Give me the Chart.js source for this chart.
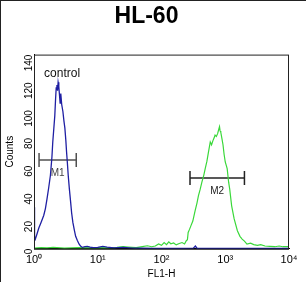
<!DOCTYPE html>
<html>
<head>
<meta charset="utf-8">
<script src="https://cdn.jsdelivr.net/npm/chart.js@4"></script>
<style>
  body { margin: 0; background: #fff; }
  #wrap { width: 306px; height: 282px; }
</style>
</head>
<body>
<div id="wrap"><canvas id="chartHist"></canvas></div>
<script>
// FL1-H channel values (log scale) and counts
const controlX = [
  1.0, 1.02, 1.05, 1.12, 1.19, 1.29, 1.42, 1.51, 1.60, 1.70, 1.81, 1.91, 1.97, 2.04, 2.12,
  2.18, 2.23, 2.29, 2.34, 2.39, 2.45, 2.51, 2.57, 2.63, 2.72, 2.84, 2.95, 3.05, 3.16, 3.24,
  3.35, 3.44, 3.59, 3.75, 3.89, 4.07, 4.27, 4.50, 4.79, 5.08, 5.37, 5.73, 6.31, 6.87, 7.59,
  8.51, 10, 12, 14, 18, 25, 35, 50, 80, 125, 200, 316, 340, 360, 630, 1260, 3160, 10000
];
const controlY = [
  30, 9, 7, 11, 15, 19, 24, 29, 36, 44, 53, 66, 77, 86, 96,
  108, 116, 118, 114, 120, 117, 111, 105, 112, 104, 99, 92, 87, 78, 70,
  61, 53, 43, 34, 26, 19, 14, 9, 6, 3.5, 2, 1, 1.5, 1.7, 1.2,
  0.8, 1, 1.8, 1.2, 0.6, 1, 0.5, 0.4, 0.3, 0.3, 0.3, 0.5, 2, 0.4, 0.3, 0.3, 0.3, 0.3
];

const sampleX = [
  1.0, 1.3, 1.6, 2, 3, 5, 8, 10, 14, 20, 25, 30, 40, 50, 60, 70, 80, 90, 100, 110,
  120, 130, 140, 155, 170, 190, 210, 230, 245, 255, 262, 275, 290, 310, 337, 360, 380, 405, 430, 460,
  485, 515, 547, 582, 610, 641, 670, 692, 725, 759, 790, 813, 830, 851, 890, 922, 960, 1000, 1040, 1072,
  1130, 1175, 1260, 1380, 1550, 1700, 1840, 2000, 2190, 2500, 2800, 3200, 3600, 4200, 5000, 6000, 7000, 8000, 10000
];
const sampleY = [
  0.5, 0.8, 0.6, 1, 0.5, 0.8, 0.6, 0.8, 0.6, 1, 1.5, 1.2, 0.8, 1.6, 2.2, 1.5, 2, 3.5, 2.5, 4.5,
  3, 5, 3.6, 4.2, 2.8, 3.8, 4.5, 3.5, 5.8, 6.5, 11.8, 14, 16.7, 20, 27.6, 33, 38.4, 43, 48, 53,
  57.8, 63, 70, 77, 75, 78, 80, 82, 81, 83, 86, 88, 85, 84, 79, 75, 68, 62.6, 60, 57.8,
  48, 43, 31, 21.5, 13, 9, 7, 5.5, 3.4, 4, 3, 2.5, 3, 2, 1.8, 1.5, 2, 1.5, 1.5
];

// gates
const gateNames = ['M1', 'M2'];
const gateFrom = [1.2, 280];
const gateTo = [4.6, 2000];
const gateLevel = [64, 51];

const yTicks = [0, 20, 40, 60, 80, 100, 120, 140];
const xTickLabels = { 1: '10⁰', 10: '10¹', 100: '10²', 1000: '10³', 10000: '10⁴' };

const toPoints = (xs, ys) => xs.map((x, i) => ({ x: x, y: ys[i] }));

const gateSets = gateNames.map((name, i) => ({
  label: name,
  data: [{ x: gateFrom[i], y: gateLevel[i] }, { x: gateTo[i], y: gateLevel[i] }],
  borderColor: i === 0 ? '#505050' : '#222222',
  borderWidth: 1.5,
  pointStyle: 'line',
  rotation: 90,
  pointRadius: 7,
  pointBorderWidth: 1.5,
  pointBorderColor: i === 0 ? '#505050' : '#222222',
  showLine: true
}));

const histExtras = {
  id: 'histExtras',
  afterDatasetsDraw(chart, args, opts) {
    const c = chart.ctx;
    const a = chart.chartArea;
    const sx = chart.scales.x, sy = chart.scales.y;
    c.save();
    // plot frame
    c.strokeStyle = '#222';
    c.lineWidth = 1;
    c.strokeRect(a.left + 0.5, a.top + 0.5, a.right - a.left - 1, a.bottom - a.top);
    // image border (top and left)
    c.beginPath();
    c.moveTo(0, 0.5); c.lineTo(chart.width, 0.5);
    c.moveTo(0.5, 0); c.lineTo(0.5, chart.height);
    c.stroke();
    // gate labels
    c.font = '10px "Liberation Sans", Arial, sans-serif';
    c.textAlign = 'center';
    c.textBaseline = 'middle';
    gateNames.forEach((name, i) => {
      const mid = Math.sqrt(gateFrom[i] * gateTo[i]);
      c.fillStyle = i === 0 ? '#444' : '#222';
      c.fillText(name, sx.getPixelForValue(mid), sy.getPixelForValue(gateLevel[i]) + 13);
    });
    // control label
    c.fillStyle = '#111';
    c.font = '12px "Liberation Sans", Arial, sans-serif';
    c.textAlign = 'left';
    c.fillText('control', sx.getPixelForValue(opts.controlAt[0]), sy.getPixelForValue(opts.controlAt[1]));
    c.restore();
  }
};

new Chart(document.getElementById('chartHist'), {
  type: 'line',
  data: {
    datasets: [
      {
        label: 'control',
        data: toPoints(controlX, controlY),
        borderColor: '#1f1fa3',
        borderWidth: 1.3,
        pointRadius: 0,
        tension: 0
      },
      {
        label: 'HL-60',
        data: toPoints(sampleX, sampleY),
        borderColor: '#3ad83a',
        borderWidth: 1.2,
        pointRadius: 0,
        tension: 0
      },
      ...gateSets
    ]
  },
  options: {
    responsive: true,
    maintainAspectRatio: false,
    animation: false,
    layout: { padding: { left: 4, right: 17, top: 0, bottom: 2 } },
    plugins: {
      legend: { display: false },
      tooltip: { enabled: false },
      title: {
        display: true,
        text: 'HL-60',
        color: '#000',
        font: { family: '"Liberation Sans", Arial, sans-serif', size: 23, weight: 'bold' },
        padding: { top: 3, bottom: 24 }
      },
      histExtras: { controlAt: [1.44, 126] }
    },
    scales: {
      x: {
        type: 'logarithmic',
        min: 1,
        max: 10000,
        grid: { display: false, drawTicks: true, tickLength: 4, tickColor: '#000' },
        border: { display: true, color: '#000' },
        ticks: {
          color: '#000',
          autoSkip: false,
          maxRotation: 0,
          padding: 1,
          font: { family: '"Liberation Sans", Arial, sans-serif', size: 11 },
          callback: (v) => xTickLabels[v] || ''
        },
        title: {
          display: true,
          text: 'FL1-H',
          color: '#000',
          padding: 0,
          font: { family: '"Liberation Sans", Arial, sans-serif', size: 10 }
        }
      },
      y: {
        min: 0,
        max: 140,
        grid: { display: false, drawTicks: true, tickLength: 4, tickColor: '#000' },
        border: { display: true, color: '#000' },
        ticks: {
          stepSize: 5,
          maxTicksLimit: 40,
          autoSkip: false,
          minRotation: 90,
          maxRotation: 90,
          color: '#000',
          padding: 1,
          font: { family: '"Liberation Sans", Arial, sans-serif', size: 10 },
          callback: (v) => yTicks.includes(v) ? String(v) : ''
        },
        title: {
          display: true,
          text: 'Counts',
          color: '#000',
          padding: 0,
          font: { family: '"Liberation Sans", Arial, sans-serif', size: 10 }
        }
      }
    }
  },
  plugins: [histExtras]
});
</script>
</body>
</html>
